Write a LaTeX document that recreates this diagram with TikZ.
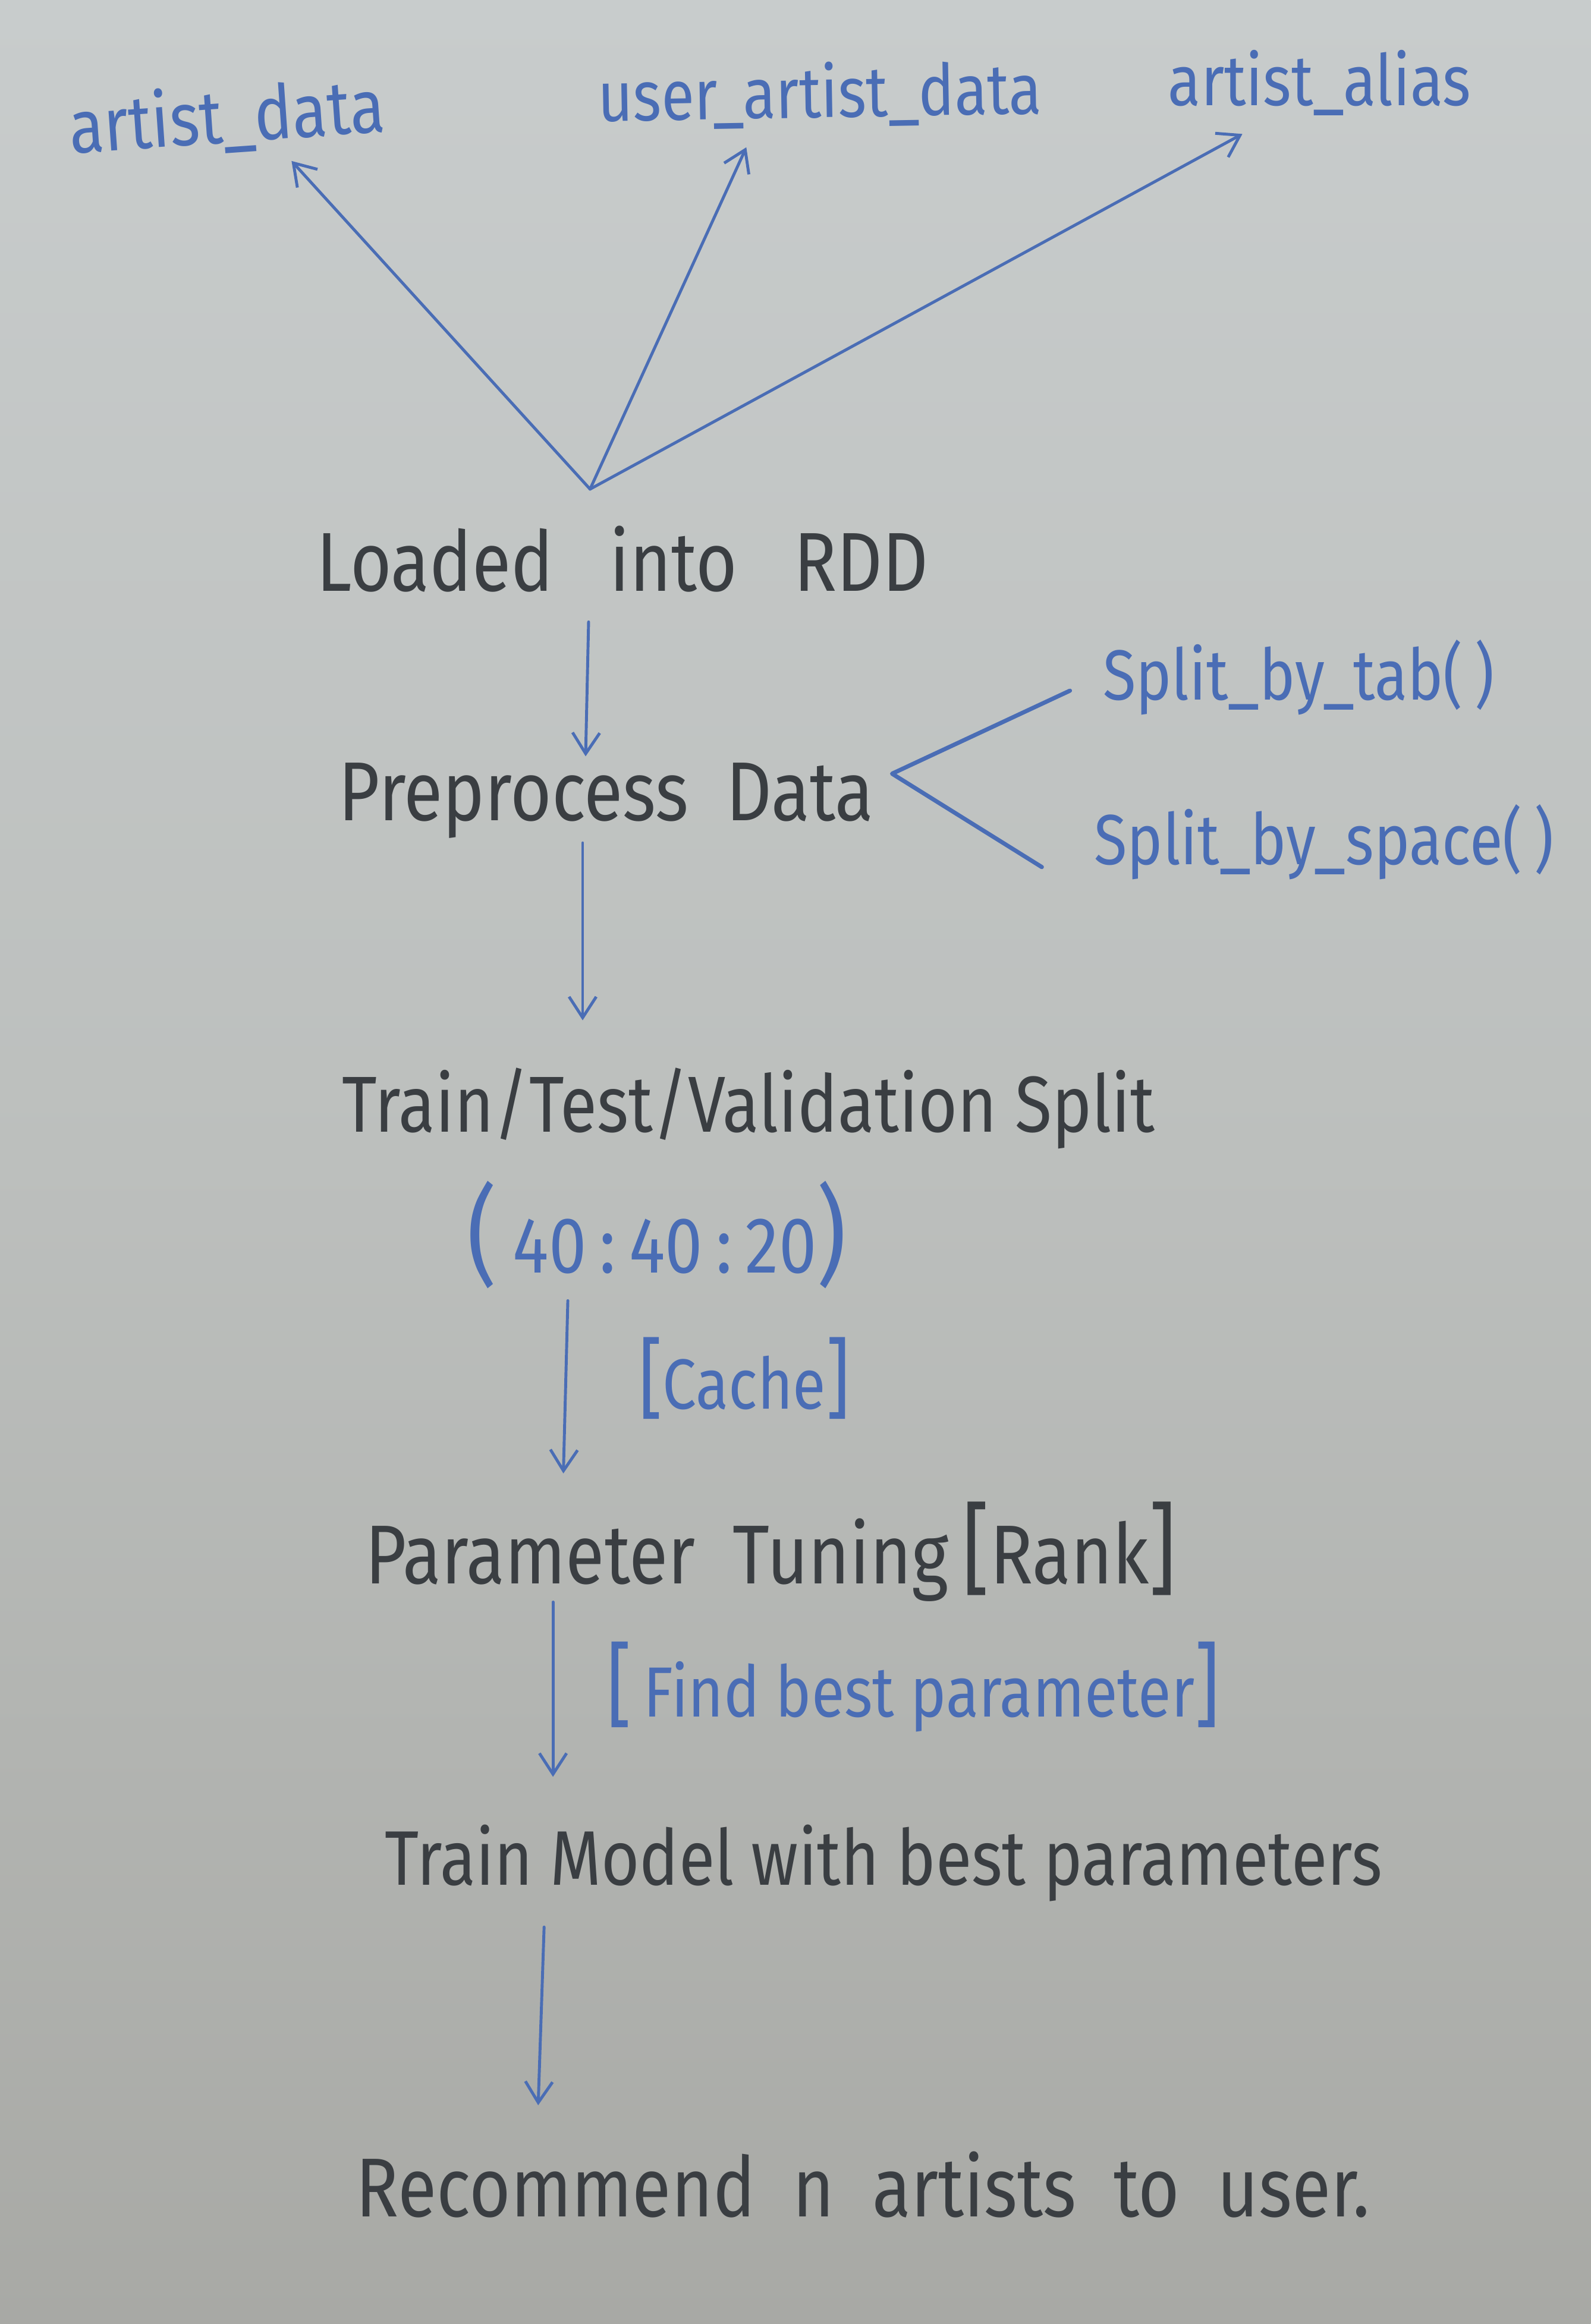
\documentclass[tikz,border=0pt]{standalone}
\usepackage{fontspec}
\setmainfont{Fira Sans}[FakeStretch=0.85]
\usetikzlibrary{arrows.meta,calc}
\definecolor{ink}{RGB}{74,109,181}
\definecolor{pen}{RGB}{58,62,66}
\definecolor{papertop}{RGB}{200,204,204}
\definecolor{papermid}{RGB}{188,191,189}
\definecolor{paperbot}{RGB}{168,169,165}
\begin{document}
\begin{tikzpicture}[x=0.02493cm,y=-0.02493cm,
  bluelabel/.style={text=ink, inner sep=0pt, font=\fontsize{34}{38}\selectfont},
  blacklabel/.style={text=pen, inner sep=0pt, font=\fontsize{40}{44}\selectfont},
  arr/.style={draw=ink, line width=1.4pt, line cap=round,
    -{Straight Barb[length=10pt,width=13pt,line width=1.4pt]}},
  branch/.style={draw=ink, line width=2pt, line cap=round, line join=round}]
\useasboundingbox (0,0) rectangle (1073,1568);
\shade[top color=papertop, bottom color=paperbot, middle color=papermid] (0,0) rectangle (1073,1568);

% top sources
\node[bluelabel, rotate=4, font=\fontsize{36}{40}\selectfont] (ad) at (153,80) {artist\_data};
\node[bluelabel, rotate=1] (uad) at (553,64) {user\_artist\_data};
\node[bluelabel] (aa) at (890,56) {artist\_alias};

\node[blacklabel] (ld) at (420,377) {Loaded\ \ \ into\ \ \ RDD};
\coordinate (hub) at (398,330);
\draw[arr] (hub) -- ($(ad.south)+(42,5)$);
\draw[arr] (hub) -- ($(uad.south)+(-50,13)$);
\draw[arr] (hub) -- ($(aa.south)+(-52,12)$);

\node[blacklabel] (pre) at (409,540) {Preprocess\ \ Data};
\node[bluelabel] (sbt) at (876,457) {Split\_by\_tab(\,)};
\node[bluelabel] (sbs) at (893,568) {Split\_by\_space(\,)};
\draw[arr] ($(ld.south)+(-23,20)$) -- ($(pre.north)+(-14,-4)$);
\draw[branch] ($(sbt.west)+(-22,9)$) -- ($(pre.east)+(12,-18)$) -- ($(sbs.west)+(-35,17)$);

\node[blacklabel, font=\fontsize{38}{42}\selectfont] (tts) at (505,748) {Train/Test/Validation\ Split};
\draw[arr] ($(pre.south)+(-16,3)$) -- ($(tts.north)+(-112,-32)$);

\node[bluelabel] (ratio) at (443,833) {{\fontsize{52}{52}\selectfont(}\ {\fontsize{38}{38}\selectfont 40\,:\,40\,:\,20}{\fontsize{52}{52}\selectfont)}};
\node[bluelabel] (cache) at (502,930) {{\fontsize{42}{42}\selectfont[}Cache{\fontsize{42}{42}\selectfont]}};

\node[blacklabel] (par) at (520,1047) {Parameter\ \ Tuning\,{\fontsize{48}{48}\selectfont[}Rank{\fontsize{48}{48}\selectfont]}};
\draw[arr] ($(ratio.south)+(-60,8)$) -- ($(par.north)+(-140,-19)$);

\node[bluelabel] (find) at (616,1138) {{\fontsize{44}{44}\selectfont[}\,Find best parameter{\fontsize{44}{44}\selectfont]}};

\node[blacklabel, font=\fontsize{37}{41}\selectfont] (tm) at (596,1257) {Train Model with best parameters};
\draw[arr] ($(par.south)+(-147,0)$) -- ($(tm.north)+(-223,-32)$);

\node[blacklabel] (rec) at (582,1474) {Recommend\ \ n\ \ artists\ \ to\ \ user.};
\draw[arr] ($(tm.south)+(-229,17)$) -- ($(rec.north)+(-219,-31)$);
\end{tikzpicture}
\end{document}
